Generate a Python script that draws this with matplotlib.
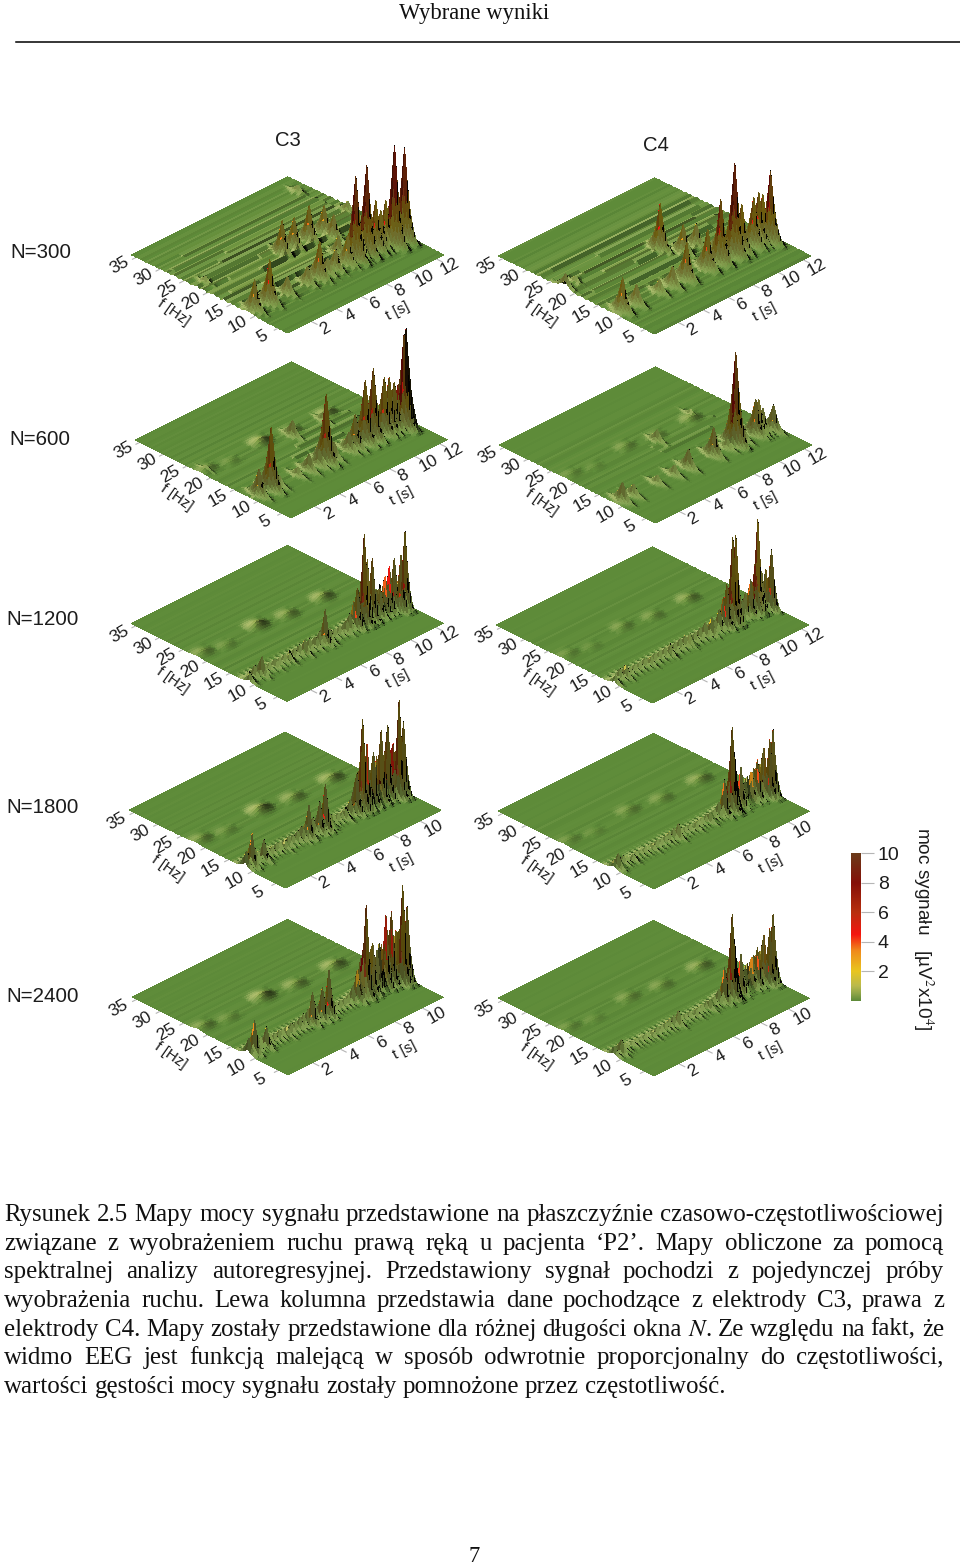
""" signal power maps, page from a thesis """
import numpy as np
import matplotlib
matplotlib.use('Agg')
import matplotlib.pyplot as plt
from matplotlib.colors import LinearSegmentedColormap
from matplotlib.lines import Line2D
from mpl_toolkits.mplot3d import proj3d

W, H = 960, 1565
SANS = 'Liberation Sans'
SERIF = 'Liberation Serif'
plt.rcParams['mathtext.fontset'] = 'stix'

HEADER = 'Wybrane wyniki'
PAGE = '7'
CAPTION = [
    'Rysunek 2.5 Mapy mocy sygnału przedstawione na płaszczyźnie czasowo-częstotliwościowej',
    'związane z wyobrażeniem ruchu prawą ręką u pacjenta ‘P2’. Mapy obliczone za pomocą',
    'spektralnej analizy autoregresyjnej. Przedstawiony sygnał pochodzi z pojedynczej próby',
    'wyobrażenia ruchu. Lewa kolumna przedstawia dane pochodzące z elektrody C3, prawa z',
    'elektrody C4. Mapy zostały przedstawione dla różnej długości okna $\\mathit{N}$. Ze względu na fakt, że',
    'widmo EEG jest funkcją malejącą w sposób odwrotnie proporcjonalny do częstotliwości,',
    'wartości gęstości mocy sygnału zostały pomnożone przez częstotliwość.',
]

ROW_LABELS = ['N=300', 'N=600', 'N=1200', 'N=1800', 'N=2400']
T_TICKS_LONG = [2, 4, 6, 8, 10, 12]
T_TICKS_SHORT = [2, 4, 6, 8, 10]
F_TICKS = [5, 10, 15, 20, 25, 30, 35]
CBAR_TICKS = [2, 4, 6, 8, 10]

# colour scale, power value -> colour
CMAP_VALUES = [0, 0.5, 1, 2, 3.4, 4.5, 6, 8, 10]
CMAP_COLORS = ['#5e8b39', '#8fa548', '#b9b94d', '#e9c61f', '#f08a1c',
               '#f5150f', '#b8300f', '#851008', '#6b3b1a']

# peaks: (t [s], f [Hz], power)
C3_300 = [(0.5, 11, 3.2), (1.75, 11, 4.45), (3.2, 11, 1.9), (4.8, 11, 1.9), (5.7, 11, 3.8),
          (6.4, 11, 1.7), (7.0, 11, 2.2), (7.8, 11, 1.3), (8.0, 11, 3.0), (8.6, 11, 8.5),
          (9.0, 11, 3.2), (9.5, 11, 9.05), (10.2, 11, 5.1), (10.6, 11, 3.8), (11.0, 11, 4.6),
          (11.3, 10, 10.05), (12.1, 10, 9.35), (6.1, 20, 3.45), (7.1, 20, 3.2), (8.3, 20, 3.65),
          (9.5, 20, 2.9), (8.4, 14, 2.0), (9.5, 18, 2.45), (12.1, 22, 1.2), (11.7, 31.5, 0.8),
          (0.8, 22, 0.8)]
C4_300 = [(0.65, 11, 3.45), (1.7, 11, 2.1), (3.6, 11, 1.4), (4.6, 11, 2.1), (5.75, 11, 3.8),
          (7.4, 11, 4.05), (8.45, 11, 6.4), (9.6, 11, 9.3), (10.1, 11, 4.85), (11.1, 11, 4.95),
          (11.5, 11, 5.2), (11.8, 11, 4.8), (12.05, 10, 7.2), (6.98, 20, 4.7), (7.7, 17, 2.9),
          (8.8, 17, 2.3), (9.3, 14, 1.9), (11.1, 12, 1.0), (0.2, 22, 1.5), (1.0, 22, 0.75)]
C3_600 = [(0.6, 11, 2.7), (1.6, 11, 6.3), (2.2, 11, 1.1), (3.7, 11, 0.95), (4.6, 11, 1.7),
          (5.4, 11, 1.7), (6.0, 11, 6.85), (6.6, 11, 1.65), (7.8, 11, 1.9), (8.3, 11, 3.4),
          (9.1, 11, 6.3), (9.7, 11, 7.05), (10.6, 11, 5.65), (11.0, 11, 5.4), (11.4, 11, 4.65),
          (11.7, 11, 4.25), (11.8, 10, 9.35), (11.95, 10, 9.85), (6.7, 20, 1.65), (9.2, 20, 0.95),
          (0.5, 22, 0.5)]
C4_600 = [(0.55, 11, 1.95), (1.4, 11, 1.2), (3.3, 11, 0.9), (4.7, 11, 1.05), (5.8, 11, 1.95),
          (7.8, 11, 2.9), (8.9, 11, 1.0), (9.5, 11, 3.0), (9.6, 11, 9.25), (10.2, 11, 1.4),
          (11.2, 11, 3.6), (11.4, 11, 3.45), (11.7, 11, 2.35), (12.2, 10, 2.6), (10.1, 22, 0.6),
          (6.7, 20, 1.2)]
C3_1200 = [(0.2, 11, 0.85), (1.2, 11, 1.95), (2.4, 11, 0.7), (3.4, 11, 0.85), (4.6, 11, 1.5),
           (5.6, 11, 1.0), (6.2, 11, 3.5), (6.6, 11, 1.35), (8.0, 11, 1.2), (8.8, 11, 4.0),
           (9.3, 11, 9.1), (9.6, 11, 6.4), (10.0, 11, 6.25), (10.6, 11, 2.9), (11.0, 11, 3.85),
           (11.3, 11, 4.65), (11.75, 11, 5.2), (12.1, 11, 3.35), (11.9, 10, 5.6), (12.2, 10, 7.75)]
C4_1200 = [(0.2, 11, 0.8), (1.1, 11, 1.3), (3.1, 11, 0.85), (4.6, 11, 1.1), (6.1, 11, 1.25),
           (7.9, 11, 1.85), (9.1, 11, 4.4), (9.6, 11, 8.8), (9.8, 11, 8.85), (11.0, 11, 3.65),
           (11.4, 11, 5.4), (11.6, 11, 9.35), (11.9, 11, 3.85), (12.2, 11, 3.95), (12.3, 10, 6.05)]
C3_1800 = [(0.5, 11, 3.3), (1.4, 11, 2.1), (3.0, 11, 0.9), (4.3, 11, 1.2), (4.7, 11, 3.3),
           (5.5, 11, 3.1), (5.9, 11, 4.6), (6.2, 11, 1.3), (7.4, 11, 1.05), (8.2, 11, 4.05),
           (8.6, 11, 9.25), (8.9, 11, 6.45), (9.4, 11, 5.4), (10.0, 11, 7.2), (10.4, 11, 7.4),
           (10.85, 11, 5.1), (10.9, 10, 9.75), (11.2, 10, 7.4)]
C4_1800 = [(0.4, 11, 1.55), (1.5, 11, 0.7), (3.0, 11, 0.6), (4.8, 11, 1.55), (6.1, 11, 0.7),
           (7.1, 11, 1.05), (8.1, 11, 3.6), (8.7, 11, 8.5), (8.8, 11, 5.8), (9.3, 11, 4.05),
           (10.1, 11, 3.0), (10.5, 11, 3.95), (11.0, 11, 4.8), (11.1, 10, 5.8), (11.3, 10, 6.65)]
C3_2400 = [(0.55, 11, 3.35), (1.4, 11, 2.1), (3.0, 11, 0.9), (4.8, 11, 3.25), (5.5, 11, 3.25),
           (6.0, 11, 4.65), (8.1, 11, 2.5), (8.7, 11, 9.3), (9.2, 11, 5.15), (10.1, 11, 7.3),
           (10.5, 11, 7.35), (11.0, 11, 4.9), (11.0, 10, 9.9), (11.3, 10, 7.55)]
C4_2400 = [(0.6, 11, 1.45), (3.0, 11, 0.6), (4.8, 11, 1.55), (6.1, 11, 0.7), (7.1, 11, 1.05),
           (8.15, 11, 3.55), (8.7, 11, 8.5), (8.8, 11, 5.8), (9.3, 11, 4.05), (10.1, 11, 3.2),
           (10.5, 11, 3.9), (11.0, 11, 4.8), (11.1, 10, 5.6), (11.3, 10, 6.9)]

# dense low spikes along the alpha ridge
COMB_1200_T = [0.4, 0.8, 1.2, 1.6, 2.0, 2.4, 2.8, 3.2, 3.6, 4.0, 4.4, 4.8, 5.2, 5.6, 6.0, 6.4, 6.8,
               7.2, 7.6, 8.0, 8.4, 8.7, 9.0, 9.3, 9.6, 9.9, 10.2, 10.5, 10.8, 11.1, 11.4, 11.7, 12.0]
COMB_1200_C3 = [0.8, 1.2, 1.3, 0.8, 0.7, 0.8, 0.7, 0.8, 0.9, 0.9, 1.0, 1.2, 1.1, 1.0, 1.3, 1.2, 0.9,
                0.8, 0.8, 1.0, 1.6, 2.6, 3.6, 3.4, 3.8, 3.6, 2.8, 2.6, 3.0, 3.2, 3.4, 3.0, 2.6]
COMB_1200_C4 = [0.6, 1.0, 1.1, 0.7, 0.7, 0.7, 0.8, 0.7, 0.8, 0.8, 0.9, 1.0, 0.9, 1.0, 1.1, 1.0, 0.9,
                1.1, 1.4, 1.3, 1.2, 2.0, 3.0, 3.2, 2.6, 1.6, 1.4, 1.8, 2.4, 2.8, 3.2, 2.6, 2.2]
COMB_1800_T = [0.3, 0.6, 0.9, 1.2, 1.6, 1.9, 2.2, 2.5, 2.8, 3.1, 3.4, 3.7, 4.0, 4.3, 4.6, 4.9, 5.2,
               5.5, 5.8, 6.1, 6.4, 6.7, 7.0, 7.3, 7.6, 7.9, 8.2, 8.4, 8.6, 8.8, 9.0, 9.2, 9.4, 9.6,
               9.8, 10.0, 10.2, 10.4, 10.6, 10.8, 11.0, 11.2]
COMB_1800_C3 = [1.6, 2.4, 1.4, 1.0, 1.2, 0.9, 0.8, 0.9, 0.8, 0.9, 1.0, 0.9, 1.1, 1.3, 1.5, 1.3, 1.6,
                1.8, 1.5, 1.4, 1.1, 0.9, 0.8, 0.8, 1.0, 1.6, 3.0, 4.0, 4.5, 4.2, 3.8, 4.2, 3.6, 4.0,
                4.6, 4.4, 4.8, 5.0, 4.2, 4.4, 5.0, 3.0]
COMB_1800_C4 = [0.9, 1.0, 0.8, 0.6, 0.5, 0.6, 0.5, 0.6, 0.5, 0.6, 0.7, 0.6, 0.7, 0.9, 1.0, 0.8, 0.7,
                0.6, 0.6, 0.5, 0.6, 0.7, 0.8, 0.8, 0.9, 1.4, 2.0, 2.6, 3.0, 3.2, 2.6, 2.4, 1.8, 2.0,
                2.4, 2.6, 2.8, 3.0, 3.0, 3.2, 3.4, 2.4]

# pale low humps in the beta band
BETA_C3 = [(0.6, 22, 0.25), (2.1, 21, 0.15), (4.9, 22, 0.5), (7.0, 21, 0.3), (9.8, 21, 0.4)]
BETA_C4 = [(0.6, 22, 0.15), (2.1, 21, 0.1), (4.9, 22, 0.2), (7.0, 21, 0.2), (9.8, 21, 0.3)]

# streak ridges that run along time: (t from, t to, f, height)
C3_300_STREAKS = [(2, 9, 14, 0.18), (3, 8, 15.5, 0.16), (1, 10, 17, 0.18), (4, 11, 18.5, 0.2),
                  (2, 10, 20, 0.14), (5, 12, 21.5, 0.24), (1, 12, 23, 0.18), (3, 12, 24.5, 0.18),
                  (4, 12, 26, 0.14), (0.5, 12, 28, 0.12), (2, 12, 30, 0.1)]
C4_300_STREAKS = [(2, 8, 14, 0.14), (3, 9, 16, 0.18), (1, 9, 18, 0.12), (5, 11, 19.5, 0.2),
                  (3, 12, 21, 0.16), (2, 11, 23, 0.14), (4, 12, 25, 0.12), (1, 12, 27, 0.1)]
C3_600_STREAKS = [(5, 9, 15, 0.12), (6, 11, 17, 0.14), (7, 11, 19, 0.1)]
C4_600_STREAKS = [(6, 10, 17, 0.07), (6, 11, 19, 0.07)]

# streak heights for each 0.5 Hz row, 3 Hz to 36 Hz
ROW_STREAKS = [0.0, 0.0, 0.1, 0.0, 0.1, 0.0, 0.1, 0.1, 0.0, 0.2, 0.1, 0.3, 0.0, 0.5, 0.2, 0.7, 0.1,
               0.4, 0.9, 0.2, 0.6, 0.0, 0.8, 0.3, 1.0, 0.2, 0.5, 0.9, 0.1, 0.7, 0.3, 1.0, 0.4, 0.6,
               0.0, 0.8, 0.5, 0.2, 0.9, 0.3, 0.6, 0.1, 0.7, 0.4, 0.2, 0.6, 0.1, 0.4, 0.5, 0.1, 0.3,
               0.4, 0.1, 0.3, 0.2, 0.1, 0.3, 0.1, 0.2, 0.2, 0.0, 0.2, 0.1, 0.1, 0.0, 0.1, 0.0]

# spike profiles, one entry per grid cell away from the apex
T_PROFILE_300 = [1, 0.62, 0.4, 0.25, 0.15, 0.09, 0.05]
T_PROFILE_600 = [1, 0.5, 0.26, 0.13, 0.05, 0.02]
T_PROFILE_1200 = [1, 0.42, 0.16, 0.05]
T_PROFILE_1800 = [1, 0.38, 0.13, 0.04]
F_PROFILE_WIDE = [1, 0.68, 0.42, 0.26, 0.15, 0.07, 0.03]
F_PROFILE_NARROW = [1, 0.55, 0.28, 0.13, 0.05]
F_PROFILE_HUMP = [1, 0.8, 0.5, 0.25, 0.1]
T_PROFILE_HUMP = [1, 0.97, 0.92, 0.85, 0.75, 0.65, 0.52, 0.4, 0.3, 0.2, 0.12, 0.06, 0.02]

F0, F1, DF = 3.0, 36.0, 0.5
DT = 0.08
Z_MAX = 14.0
INK = '#1c1c1c'

cmap = LinearSegmentedColormap.from_list(
    'moc', [(v / 10, c) for v, c in zip(CMAP_VALUES, CMAP_COLORS)])


def stamp(z, t_grid, f_grid, t, f, h, t_prof, f_prof):
    """ raise the surface around one apex """
    i0 = int(round((f - f_grid[0]) / DF))
    j0 = int(round((t - t_grid[0]) / DT))
    for di, a in enumerate(f_prof):
        for dj, b in enumerate(t_prof):
            for i in {i0 - di, i0 + di}:
                for j in {j0 - dj, j0 + dj}:
                    if 0 <= i < z.shape[0] and 0 <= j < z.shape[1]:
                        z[i, j] = max(z[i, j], h * a * b)


def surface_colors(z):
    """ colour scale with a light from the far left, steep faces go dark """
    sx = np.gradient(z, axis=1) / DT * 0.65
    sy = np.gradient(z, axis=0) / DF * 1.7
    norm = np.sqrt(1 + sx ** 2 + sy ** 2)
    lit = 0.7 * (sx - sy) / norm
    steep = 1 - 1 / norm
    rgb = cmap(np.clip(z / 10, 0, 1))[..., :3]
    dark = np.clip(1 + 1.45 * np.minimum(lit, 0), 0.06, 1)
    dark = dark * np.where(lit > 0, 1 - 0.7 * steep ** 2, 1 - 0.9 * steep)
    pale = np.clip(lit * 1.5, 0, 0.8) * (1 - np.clip(z / 3, 0, 1)) * (1 - steep) ** 2
    rgb = rgb * dark[..., None]
    rgb = rgb + (np.array([0.93, 0.91, 0.62]) - rgb) * pale[..., None]
    return rgb


def to_pixels(ax, x, y, z):
    xs, ys, _z = proj3d.proj_transform(x, y, z, ax.get_proj())
    return ax.transData.transform(np.column_stack([xs, ys]))


def fit_axes(ax, cx, cy, width, corners):
    """ place the axes so the floor diamond sits at cx, cy with the given width """
    size, left, bottom = 600.0, cx - 300.0, H - cy - 300.0
    for _ in range(3):
        ax.set_position([left / W, bottom / H, size / W, size / H])
        ax.apply_aspect()
        px = to_pixels(ax, *corners)
        size *= width / (px[:, 0].max() - px[:, 0].min())
        ax.set_position([left / W, bottom / H, size / W, size / H])
        ax.apply_aspect()
        px = to_pixels(ax, *corners)
        left += cx - (px[:, 0].max() + px[:, 0].min()) / 2
        bottom += (H - cy) - (px[:, 1].max() + px[:, 1].min()) / 2
    ax.set_position([left / W, bottom / H, size / W, size / H])
    ax.apply_aspect()


def floor_label(ax, t, f, s, rotation, size):
    """ text on the page at a point of the panel's floor """
    px = to_pixels(ax, np.array([t]), np.array([f]), np.array([0.0]))[0]
    fig.text(px[0] / W, px[1] / H, s, rotation=rotation, ha='center', va='center',
             fontsize=size, family=SANS, color=INK)


def draw_panel(cx, cy, peaks, comb_t, comb_h, beta, streaks, t0, t1, t_ticks, t_prof, f_prof, streak, flip):
    t_grid = np.arange(t0, t1 + DT / 2, DT)
    f_grid = np.arange(F0, F1 + DF / 2, DF)
    rows = np.array(ROW_STREAKS[::-1] if flip else ROW_STREAKS)
    z = np.tile(rows[:, None] * streak, (1, len(t_grid)))
    for ta, tb, f, h in streaks:
        i = int(round((f - F0) / DF))
        z[i, int((ta - t0) / DT):int((tb - t0) / DT)] += h
    for t, f, h in beta:
        stamp(z, t_grid, f_grid, t, f, h, T_PROFILE_HUMP, F_PROFILE_HUMP)
    for t, h in zip(comb_t, comb_h):
        stamp(z, t_grid, f_grid, t, 11.5, h, t_prof, f_prof)
    for t, f, h in peaks:
        stamp(z, t_grid, f_grid, t, f, h, t_prof, f_prof)

    ax = fig.add_axes([0, 0, 1, 1], projection='3d')
    ax.set_proj_type('ortho')
    ax.view_init(elev=30, azim=-135)
    ax.set_xlim(t0, t1)
    ax.set_ylim(F0, F1)
    ax.set_zlim(0, Z_MAX)
    ax.set_box_aspect((1, 1, 0.733))
    ax.set_xticks([])
    ax.set_yticks([])
    ax.set_zticks([])
    ax.set_axis_off()
    ax.patch.set_alpha(0)

    tt, ff = np.meshgrid(t_grid, f_grid)
    ax.plot_surface(tt, ff, z, facecolors=surface_colors(z), rstride=1, cstride=1,
                    linewidth=0, antialiased=False, shade=False)

    for t in t_ticks:
        ax.plot([t, t], [F0, F0 - 1.3], [0, 0], color='#b5b5b5', lw=0.8)
    for f in F_TICKS:
        ax.plot([t0, t0 - 0.3], [f, f], [0, 0], color='#b5b5b5', lw=0.8)

    corners = (np.array([t0, t0, t1, t1]), np.array([F0, F1, F0, F1]), np.zeros(4))
    fit_axes(ax, cx, cy, 312, corners)

    for t in t_ticks:
        floor_label(ax, t, F0 - 3.0, str(t), 30, 12.5)
    for f in F_TICKS:
        floor_label(ax, t0 - 1.3, f, str(f), 30, 12.5)
    floor_label(ax, t0 - 2.9, 19.5, 'f [Hz]', -35, 11)
    floor_label(ax, 6.3, F0 - 7.0, 't [s]', 27, 11)


def page_text(x, y, s, **kw):
    return fig.text(x / W, 1 - y / H, s, **kw)


def draw_caption(renderer):
    size = 17.9
    for n, line in enumerate(CAPTION):
        y = 1221 + n * 28.65
        items = [page_text(480, y, w, family=SERIF, fontsize=size, va='baseline', color='#111111')
                 for w in line.split(' ')]
        widths = [it.get_window_extent(renderer).width for it in items]
        if n == len(CAPTION) - 1:
            gap = 6.1
        else:
            gap = (940 - sum(widths)) / (len(items) - 1)
        x = 4.0
        for it, w in zip(items, widths):
            it.set_x(x / W)
            x += w + gap


fig = plt.figure(figsize=(W / 100, H / 100), dpi=100, facecolor='white')

page_text(474, 13, HEADER, family=SERIF, fontsize=16.3, ha='center', va='center', color='#111111')
page_text(474, 1556.5, PAGE, family=SERIF, fontsize=16.3, ha='center', va='center', color='#111111')
fig.add_artist(Line2D([16 / W, 1.0], [1 - 42 / H, 1 - 42 / H], color='black', lw=1.1))

draw_panel(287.5, 255, C3_300, [], [], [], C3_300_STREAKS, 0.13, 12.6, T_TICKS_LONG, T_PROFILE_300, F_PROFILE_WIDE, 0.30, False)
draw_panel(654.5, 256, C4_300, [], [], [], C4_300_STREAKS, 0.13, 12.6, T_TICKS_LONG, T_PROFILE_300, F_PROFILE_WIDE, 0.22, True)
draw_panel(291, 440, C3_600, [], [], BETA_C3, C3_600_STREAKS, 0.13, 12.6, T_TICKS_LONG, T_PROFILE_600, F_PROFILE_WIDE, 0.07, False)
draw_panel(655.5, 445, C4_600, [], [], BETA_C4, C4_600_STREAKS, 0.13, 12.6, T_TICKS_LONG, T_PROFILE_600, F_PROFILE_WIDE, 0.05, True)
draw_panel(287, 623.5, C3_1200, COMB_1200_T, COMB_1200_C3, BETA_C3, [], 0.13, 12.6, T_TICKS_LONG, T_PROFILE_1200, F_PROFILE_NARROW, 0.05, False)
draw_panel(652.5, 625, C4_1200, COMB_1200_T, COMB_1200_C4, BETA_C4, [], 0.13, 12.6, T_TICKS_LONG, T_PROFILE_1200, F_PROFILE_NARROW, 0.04, True)
draw_panel(285.5, 810, C3_1800, COMB_1800_T, COMB_1800_C3, BETA_C3, [], 0.2, 11.6, T_TICKS_SHORT, T_PROFILE_1800, F_PROFILE_NARROW, 0.05, False)
draw_panel(654, 811, C4_1800, COMB_1800_T, COMB_1800_C4, BETA_C4, [], 0.2, 11.6, T_TICKS_SHORT, T_PROFILE_1800, F_PROFILE_NARROW, 0.04, True)
draw_panel(288, 997, C3_2400, COMB_1800_T, COMB_1800_C3, BETA_C3, [], 0.2, 11.6, T_TICKS_SHORT, T_PROFILE_1800, F_PROFILE_NARROW, 0.05, False)
draw_panel(654, 998, C4_2400, COMB_1800_T, COMB_1800_C4, BETA_C4, [], 0.2, 11.6, T_TICKS_SHORT, T_PROFILE_1800, F_PROFILE_NARROW, 0.04, True)

page_text(288, 140.5, 'C3', family=SANS, fontsize=14.6, ha='center', va='center', color=INK)
page_text(656, 145.5, 'C4', family=SANS, fontsize=14.6, ha='center', va='center', color=INK)
for label, lx, ly in zip(ROW_LABELS, [41, 40, 43, 43, 43], [252.5, 439.5, 619.5, 807.5, 996.5]):
    page_text(lx, ly, label, family=SANS, fontsize=14.8, ha='center', va='center', color=INK)

# colour bar
cax = fig.add_axes([851 / W, 1 - 1001 / H, 10 / W, 148 / H])
cax.imshow(np.linspace(0, 10, 256)[:, None], cmap=cmap, vmin=0, vmax=10, aspect='auto',
           origin='lower', extent=[0, 1, 0, 10])
cax.set_xticks([])
cax.yaxis.tick_right()
cax.set_yticks(CBAR_TICKS)
cax.tick_params(axis='y', length=9, width=0.8, color='#b5b5b5', pad=3, labelsize=14, labelcolor=INK)
for lab in cax.get_yticklabels():
    lab.set_family(SANS)
for spine in cax.spines.values():
    spine.set_visible(False)
page_text(923, 929, 'moc sygnału   [µV$^{2}$x10$^{4}$]', family=SANS, fontsize=13.7,
          rotation=270, ha='center', va='center', color=INK)

fig.canvas.draw()
draw_caption(fig.canvas.get_renderer())

plt.savefig('out.png', dpi=100)
